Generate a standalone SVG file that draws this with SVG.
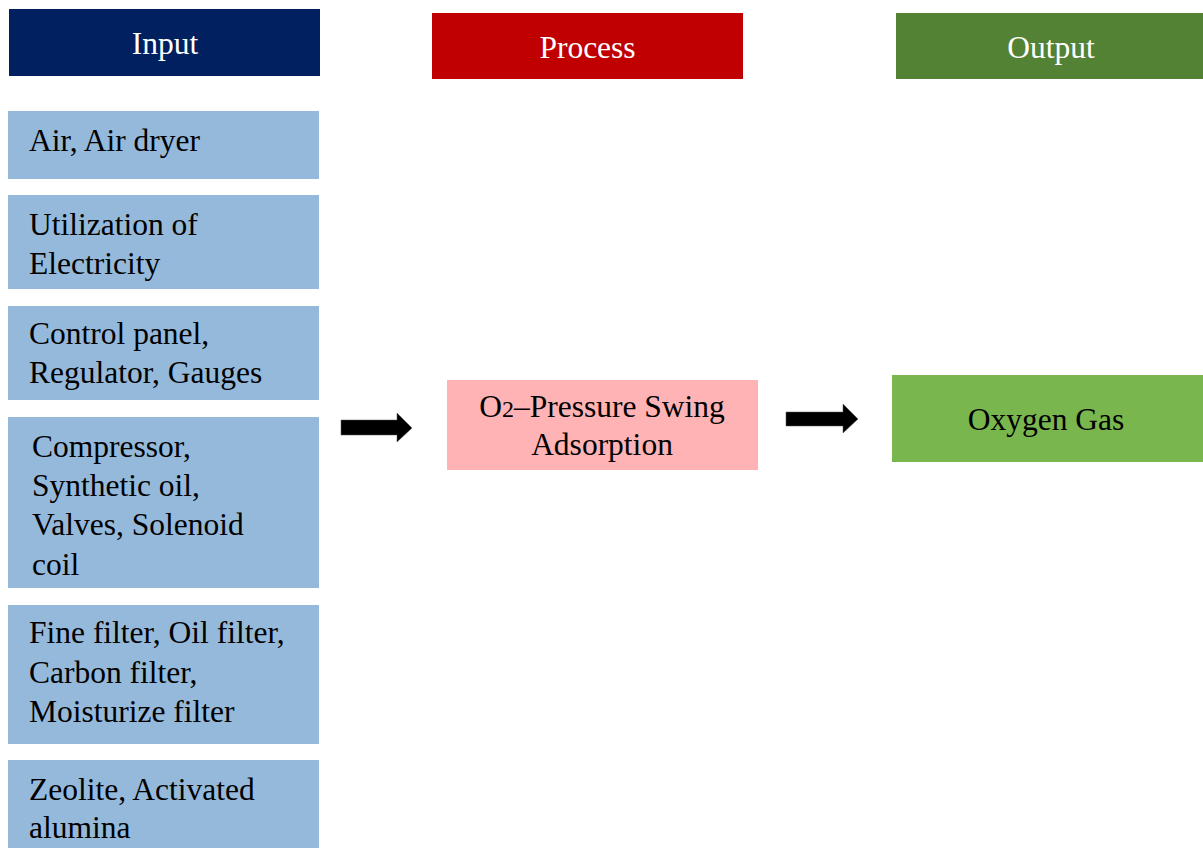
<svg xmlns="http://www.w3.org/2000/svg" width="1203" height="848" viewBox="0 0 1203 848">
<style>
text{font-family:"Liberation Serif","Times New Roman",serif;font-size:31.5px;fill:#000}
.hd{fill:#fff}
.in{fill:#95B9DB}
</style>
<rect width="1203" height="848" fill="#fff"/>
<g id="hdr-input"><rect x="9" y="9" width="311" height="67" fill="#002060"/><text class="hd" x="165" y="54" text-anchor="middle">Input</text></g>
<g id="hdr-process"><rect x="432" y="13" width="311" height="66" fill="#C00000"/><text class="hd" x="587.5" y="58" text-anchor="middle">Process</text></g>
<g id="hdr-output"><rect x="896" y="13" width="307" height="66" fill="#548235"/><text class="hd" x="1051" y="58" text-anchor="middle">Output</text></g>
<g id="in1"><rect class="in" x="8" y="111" width="311" height="68"/><text x="29" y="151">Air, Air dryer</text></g>
<g id="in2"><rect class="in" x="8" y="195" width="311" height="94"/><text x="29" y="235">Utilization of</text><text x="29" y="274">Electricity</text></g>
<g id="in3"><rect class="in" x="8" y="306" width="311" height="94"/><text x="29" y="344">Control panel,</text><text x="29" y="383">Regulator, Gauges</text></g>
<g id="in4"><rect class="in" x="8" y="417" width="311" height="171"/><text x="32" y="457">Compressor,</text><text x="32" y="496">Synthetic oil,</text><text x="32" y="535">Valves, Solenoid</text><text x="32" y="575">coil</text></g>
<g id="in5"><rect class="in" x="8" y="605" width="311" height="139"/><text x="29" y="643">Fine filter, Oil filter,</text><text x="29" y="683">Carbon filter,</text><text x="29" y="722">Moisturize filter</text></g>
<g id="in6"><rect class="in" x="8" y="760" width="311" height="88"/><text x="29" y="800">Zeolite, Activated</text><text x="29" y="838">alumina</text></g>
<g id="process"><rect x="447" y="380" width="311" height="90" fill="#FFB3B4"/><text x="602" y="417" text-anchor="middle">O<tspan font-size="24">2</tspan>–Pressure Swing</text><text x="602" y="455" text-anchor="middle">Adsorption</text></g>
<g id="output"><rect x="892" y="375" width="311" height="87" fill="#7AB64E"/><text x="1046" y="430" text-anchor="middle">Oxygen Gas</text></g>
<g id="connectors" fill="#000" stroke="#555" stroke-width="0.5">
<polygon points="341,420 397,420 397,413 412,428 397,442 397,435 341,435"/>
<polygon points="786,412 843,412 843,404 858,419 843,433 843,426 786,426"/>
</g>
</svg>
